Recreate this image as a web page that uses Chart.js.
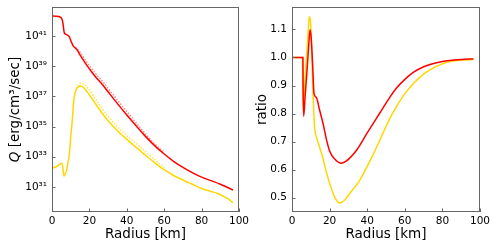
<!DOCTYPE html>
<html>
<head>
<meta charset="utf-8">
<script src="https://cdn.jsdelivr.net/npm/chart.js@4.4.1/dist/chart.umd.min.js"></script>
<style>
  html, body { margin: 0; padding: 0; background: #fff; }
  #wrap { position: relative; width: 498px; height: 249px; }
  .panel { position: absolute; top: 0; width: 249px; height: 249px; }
</style>
</head>
<body>
<div id="wrap">
  <div class="panel" style="left:0"><canvas id="qChart" width="249" height="249"></canvas></div>
  <div class="panel" style="left:249px"><canvas id="ratioChart" width="249" height="249"></canvas></div>
</div>
<script>
// left panel: radius [km] and log10 of Q [erg/cm^3/sec]
const rQRed = [0, 2, 4, 5, 5.6, 6.0, 6.5, 7.3, 8.3, 9.2, 10.3, 11.3, 12.3, 13.3, 14.8, 16.5, 18, 20, 23, 26.7, 30, 35, 40, 45, 50, 55, 60, 65, 70, 75, 80, 85, 90, 96.8];
const logQRed = [42.32, 42.31, 42.27, 42.2, 42.0, 41.7, 41.25, 41.12, 41.06, 40.95, 40.62, 40.35, 40.22, 40.1, 39.78, 39.45, 39.17, 38.82, 38.33, 37.82, 37.3, 36.52, 35.77, 35.05, 34.35, 33.72, 33.18, 32.7, 32.3, 31.95, 31.65, 31.42, 31.18, 30.8];

const rQRedDot = [12.5, 15, 18, 20, 23, 26.7, 30, 35, 40, 45, 50, 55, 60];
const logQRedDot = [40.25, 39.92, 39.38, 39.05, 38.55, 38.05, 37.53, 36.75, 36.0, 35.25, 34.52, 33.85, 33.3];

const rQYel = [0, 2, 4, 5, 5.6, 6.0, 6.4, 7.1, 7.8, 8.5, 9.2, 10.1, 10.9, 11.6, 12.5, 13.3, 14.2, 15.1, 16.5, 17.8, 20, 23, 26.7, 30, 35, 40, 45, 50, 55, 60, 65, 70, 75, 80, 85, 88.3, 91, 94, 96.8];
const logQYel = [32.25, 32.32, 32.48, 32.57, 32.45, 32.05, 31.72, 31.85, 32.1, 32.6, 33.1, 34.4, 35.5, 36.7, 37.3, 37.54, 37.65, 37.69, 37.62, 37.45, 37.1, 36.55, 35.9, 35.38, 34.72, 34.15, 33.62, 33.1, 32.6, 32.14, 31.76, 31.46, 31.18, 30.9, 30.7, 30.58, 30.42, 30.22, 29.96];

const rQYelDot = [13, 14, 15.7, 17.5, 20, 23, 26.7, 30, 35, 40, 45, 50, 55, 60];
const logQYelDot = [37.5, 37.75, 37.87, 37.76, 37.42, 36.88, 36.22, 35.68, 34.98, 34.4, 33.88, 33.34, 32.8, 32.28];

const qTicks = [31, 33, 35, 37, 39, 41];
const qTickLabels = ['10³¹', '10³³', '10³⁵', '10³⁷', '10³⁹', '10⁴¹'];

// right panel: ratio
const rRatioRed = [0, 5.8, 5.9, 6.2, 7, 8, 9, 9.6, 10.2, 11, 11.7, 12.9, 14.7, 16.5, 18.3, 20.1, 22.7, 26.3, 29, 34.3, 40, 46.7, 52, 55.6, 60, 64.5, 70, 73.4, 80, 85, 90, 96.5];
const ratioRed = [1.0, 1.0, 0.9, 0.79, 0.863, 0.954, 1.055, 1.099, 1.07, 0.97, 0.872, 0.858, 0.812, 0.765, 0.708, 0.665, 0.638, 0.623, 0.631, 0.669, 0.731, 0.802, 0.858, 0.891, 0.922, 0.947, 0.967, 0.975, 0.986, 0.99, 0.993, 0.995];

const rRatioYel = [0, 5.6, 5.7, 5.9, 6.5, 7.5, 8.5, 9.2, 9.9, 10.6, 11.3, 12.1, 13, 14.7, 16.5, 18.3, 20.1, 22.7, 25.3, 28, 30.6, 36, 40, 43, 46.7, 48.5, 52, 55.6, 59.1, 64.5, 69.8, 73.4, 78, 82.3, 90, 96.5];
const ratioYel = [1.0, 1.0, 0.9, 0.81, 0.87, 0.98, 1.08, 1.146, 1.12, 1.0, 0.85, 0.745, 0.716, 0.68, 0.639, 0.591, 0.55, 0.502, 0.481, 0.491, 0.514, 0.562, 0.612, 0.652, 0.705, 0.732, 0.782, 0.825, 0.862, 0.906, 0.94, 0.956, 0.972, 0.983, 0.99, 0.993];

const ratioTicks = [0.5, 0.6, 0.7, 0.8, 0.9, 1.0, 1.1];
const radiusTicks = [0, 20, 40, 60, 80, 100];

const RED = '#ff0000';
const GOLD = '#ffd700';
const FONT = '"DejaVu Sans", sans-serif';

const pts = (xs, ys) => xs.map((x, i) => ({ x, y: ys[i] }));

function line(data, color, dashed) {
    return {
        data,
        borderColor: color,
        borderWidth: 1.5,
        borderDash: dashed ? [1.5, 1.5] : [],
        pointRadius: 0,
        fill: false,
        cubicInterpolationMode: 'monotone'
    };
}

// frame, inward ticks and axis titles, drawn like matplotlib
const framePlugin = {
    id: 'frame',
    afterDatasetsDraw(chart, args, opts) {
        const { ctx, chartArea: a, scales } = chart;
        ctx.save();
        ctx.strokeStyle = '#666';
        ctx.lineWidth = 1;
        ctx.beginPath();
        scales.x.ticks.forEach(t => {
            const px = Math.round(scales.x.getPixelForValue(t.value)) + 0.5;
            ctx.moveTo(px, a.bottom);
            ctx.lineTo(px, a.bottom - 3.5);
        });
        scales.y.ticks.forEach(t => {
            const py = Math.round(scales.y.getPixelForValue(t.value)) + 0.5;
            ctx.moveTo(a.left, py);
            ctx.lineTo(a.left + 3.5, py);
        });
        ctx.stroke();
        ctx.strokeRect(a.left + 0.5, a.top + 0.5, a.width - 1, a.height - 1);

        ctx.fillStyle = '#000';
        ctx.font = '13.5px ' + FONT;
        ctx.textAlign = 'center';
        ctx.textBaseline = 'alphabetic';
        ctx.fillText('Radius [km]', (a.left + a.right) / 2, 238);

        // rotated y title, parts may be italic
        ctx.translate(opts.titleX, (a.top + a.bottom) / 2);
        ctx.rotate(-Math.PI / 2);
        ctx.textBaseline = 'middle';
        ctx.textAlign = 'left';
        const fontOf = p => (p.italic ? 'italic ' : '') + '13.5px ' + FONT;
        let total = 0;
        opts.title.forEach(p => { ctx.font = fontOf(p); total += ctx.measureText(p.text).width; });
        let x = -total / 2;
        opts.title.forEach(p => {
            ctx.font = fontOf(p);
            ctx.fillText(p.text, x, 0);
            x += ctx.measureText(p.text).width;
        });
        ctx.restore();
    }
};

function makeOptions(cfg) {
    return {
        responsive: false,
        animation: false,
        devicePixelRatio: 1,
        layout: { padding: { left: 0, right: cfg.padRight, top: 7, bottom: 0 } },
        plugins: {
            legend: { display: false },
            tooltip: { enabled: false },
            frame: { title: cfg.title, titleX: cfg.titleX }
        },
        scales: {
            x: {
                type: 'linear',
                min: 0,
                max: 100,
                afterBuildTicks: s => { s.ticks = radiusTicks.map(v => ({ value: v })); },
                afterFit: s => { s.height = 37; s.paddingLeft = 0; s.paddingRight = 0; },
                ticks: { autoSkip: false, maxRotation: 0, padding: 3, color: '#000', font: { family: FONT, size: 10.5 } },
                grid: { display: false, drawTicks: false },
                border: { display: false }
            },
            y: {
                type: 'linear',
                min: cfg.yMin,
                max: cfg.yMax,
                afterBuildTicks: s => { s.ticks = cfg.yTicks.map(v => ({ value: v })); },
                afterFit: s => { s.width = cfg.yWidth; s.paddingTop = 0; s.paddingBottom = 0; },
                ticks: {
                    autoSkip: false,
                    padding: 5,
                    color: '#000',
                    font: { family: FONT, size: 10.5 },
                    callback: (v, i) => cfg.yLabels[i]
                },
                grid: { display: false, drawTicks: false },
                border: { display: false }
            }
        }
    };
}

new Chart(document.getElementById('qChart'), {
    type: 'line',
    data: {
        datasets: [
            line(pts(rQRed, logQRed), RED, false),
            line(pts(rQRedDot, logQRedDot), 'rgba(255,0,0,0.45)', true),
            line(pts(rQYel, logQYel), GOLD, false),
            line(pts(rQYelDot, logQYelDot), 'rgba(255,215,0,0.7)', true)
        ]
    },
    options: makeOptions({
        yMin: 29.34, yMax: 42.92, yTicks: qTicks, yLabels: qTickLabels,
        yWidth: 52, padRight: 10, titleX: 15,
        title: [{ text: 'Q', italic: true }, { text: ' [erg/cm³/sec]' }]
    }),
    plugins: [framePlugin]
});

new Chart(document.getElementById('ratioChart'), {
    type: 'line',
    data: {
        datasets: [
            line(pts(rRatioRed, ratioRed), RED, false),
            line(pts(rRatioYel, ratioYel), GOLD, false)
        ]
    },
    options: makeOptions({
        yMin: 0.449, yMax: 1.18, yTicks: ratioTicks, yLabels: ratioTicks.map(v => v.toFixed(1)),
        yWidth: 43, padRight: 18, titleX: 13,
        title: [{ text: 'ratio' }]
    }),
    plugins: [framePlugin]
});
</script>
</body>
</html>
